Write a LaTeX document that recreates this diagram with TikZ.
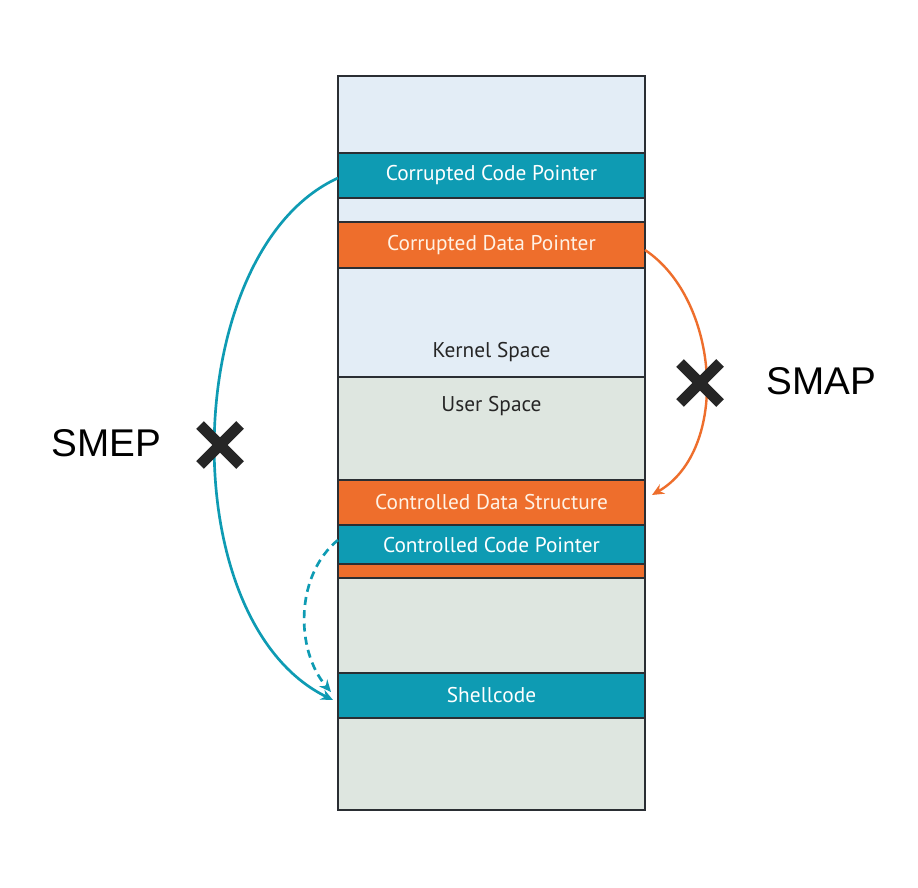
\documentclass[tikz,border=0pt]{standalone}
\usepackage{fontspec}
\setmainfont{PT Sans}
\newfontfamily\lab{Liberation Sans}
\usetikzlibrary{arrows.meta}
\definecolor{teal1}{HTML}{0E9BB3}
\definecolor{orng}{HTML}{EE6E2C}
\definecolor{kbg}{HTML}{E3EDF6}
\definecolor{ubg}{HTML}{DEE6E0}
\definecolor{bord}{HTML}{2A2E33}
\begin{document}
\begin{tikzpicture}[x=0.75pt,y=-0.75pt,
  band/.style={draw=bord,line width=1.2pt},
  btxt/.style={font=\fontsize{16}{18}\selectfont},
  xmark/.style={line width=8pt,black!85},
  conn/.style={line width=2pt,-{Stealth[length=9pt,width=8pt]}}]
\useasboundingbox (0,0) rectangle (918,888);
\fill[white] (0,0) rectangle (918,888);
\fill[kbg] (338,76) rectangle (645,377);
\fill[ubg] (338,377) rectangle (645,810);
\draw[band] (338,377) -- (645,377);
\filldraw[band,fill=teal1] (338,153) rectangle (645,198);
\filldraw[band,fill=orng] (338,222) rectangle (645,268);
\filldraw[band,fill=orng] (338,480) rectangle (645,525);
\filldraw[band,fill=teal1] (338,525) rectangle (645,564);
\filldraw[band,fill=orng] (338,564) rectangle (645,578);
\filldraw[band,fill=teal1] (338,673) rectangle (645,718);
\draw[band] (338,76) rectangle (645,810);
\node[btxt,text=white] (ccp) at (491.5,175.5) {Corrupted Code Pointer};
\node[btxt,text=white!90!orange] (cdp) at (491.5,245) {Corrupted Data Pointer};
\node[btxt,text=black!85] (ks) at (491.5,352) {Kernel Space};
\node[btxt,text=black!85] (us) at (491.5,406) {User Space};
\node[btxt,text=white!90!orange] (cds) at (491.5,502) {Controlled Data Structure};
\node[btxt,text=white] (cop) at (491.5,545) {Controlled Code Pointer};
\node[btxt,text=white] (sh) at (491.5,695) {Shellcode};
\coordinate (a1) at (338,178);
\coordinate (a2) at (333,700);
\coordinate (b1) at (645,250);
\coordinate (b2) at (652,495);
\coordinate (c1) at (338,540);
\coordinate (c2) at (331,692);
\draw[conn,teal1] (a1) .. controls (180,250) and (170,620) .. (a2);
\draw[conn,orng,line width=1.8pt] (b1) .. controls (720,300) and (730,450) .. (b2);
\draw[conn,teal1,dashed,dash pattern=on 6pt off 4pt] (c1) .. controls (295,575) and (295,650) .. (c2);
\draw[xmark] (200,425) -- (240,465) (240,425) -- (200,465);
\draw[xmark] (680,363) -- (720,403) (720,363) -- (680,403);
\node[font=\lab\fontsize{29}{32}\selectfont] (smep) at (106,443) {SMEP};
\node[font=\lab\fontsize{29}{32}\selectfont] (smap) at (821,381) {SMAP};
\end{tikzpicture}
\end{document}
